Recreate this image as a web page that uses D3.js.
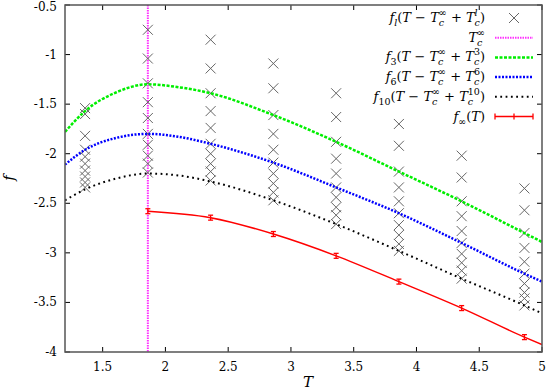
<!DOCTYPE html>
<html>
<head>
<meta charset="utf-8">
<title>f vs T</title>
<script src="https://d3js.org/d3.v7.min.js"></script>
<style>
  body { margin: 0; background: #fff; }
  svg text { font-family: "DejaVu Serif", serif; }
</style>
</head>
<body>
<script>
// ---- data ----
const xTicks = [1.5, 2, 2.5, 3, 3.5, 4, 4.5, 5];
const yTicks = [-0.5, -1, -1.5, -2, -2.5, -3, -3.5, -4];
const tcInf = 1.86;

// f_l(T - Tc + Tc^l), l = 1..10, one array per T column
const colT = [1.36, 1.86, 2.36, 2.86, 3.36, 3.86, 4.36, 4.86];
const cols = [
  [-1.54, -1.60, -1.82, -1.96, -2.03, -2.10, -2.17, -2.23, -2.29, -2.34],
  [-0.75, -1.04, -1.29, -1.48, -1.64, -1.80, -1.91, -2.02, -2.10, -2.19],
  [-0.85, -1.14, -1.39, -1.57, -1.74, -1.90, -2.00, -2.10, -2.18, -2.27],
  [-1.09, -1.34, -1.61, -1.80, -1.96, -2.09, -2.20, -2.30, -2.39, -2.47],
  [-1.39, -1.63, -1.88, -2.05, -2.20, -2.34, -2.44, -2.54, -2.62, -2.71],
  [-1.70, -1.92, -2.18, -2.34, -2.48, -2.60, -2.72, -2.82, -2.91, -2.98],
  [-2.02, -2.24, -2.48, -2.63, -2.78, -2.90, -3.01, -3.10, -3.18, -3.26],
  [-2.35, -2.57, -2.80, -2.95, -3.09, -3.21, -3.31, -3.40, -3.46, -3.53]
];

// shifted curves
const curveT = [1.2, 1.36, 1.61, 1.86, 2.11, 2.36, 2.86, 3.36, 3.86, 4.36, 4.86, 5.0];
const f3  = [-1.78, -1.57, -1.38, -1.30, -1.33, -1.39, -1.61, -1.88, -2.18, -2.48, -2.80, -2.89];
const f6  = [-2.11, -1.96, -1.84, -1.80, -1.83, -1.90, -2.09, -2.34, -2.60, -2.90, -3.21, -3.29];
const f10 = [-2.47, -2.36, -2.25, -2.20, -2.22, -2.28, -2.47, -2.71, -2.98, -3.26, -3.53, -3.61];

// f_inf(T) with error bars
const infT   = [1.86, 2.36, 2.86, 3.36, 3.86, 4.36, 4.86];
const infVal = [-2.58, -2.645, -2.81, -3.03, -3.29, -3.557, -3.85];
const infErr = [0.025, 0.025, 0.025, 0.025, 0.025, 0.025, 0.025];
const infEnd = [5.0, -3.925];

const legendLabels = [
  [["f", "i"], ["l", "subi"], ["(", ""], ["T", "i"], [" \u2212 ", ""], ["T", "i"], ["c", "subi"], ["\u221E", "sup"], [" + ", ""], ["T", "i"], ["c", "subi"], ["l", "supi"], [")", ""]],
  [["T", "i"], ["c", "subi"], ["\u221E", "sup"]],
  [["f", "i"], ["3", "sub"], ["(", ""], ["T", "i"], [" \u2212 ", ""], ["T", "i"], ["c", "subi"], ["\u221E", "sup"], [" + ", ""], ["T", "i"], ["c", "subi"], ["3", "sup"], [")", ""]],
  [["f", "i"], ["6", "sub"], ["(", ""], ["T", "i"], [" \u2212 ", ""], ["T", "i"], ["c", "subi"], ["\u221E", "sup"], [" + ", ""], ["T", "i"], ["c", "subi"], ["6", "sup"], [")", ""]],
  [["f", "i"], ["10", "sub"], ["(", ""], ["T", "i"], [" \u2212 ", ""], ["T", "i"], ["c", "subi"], ["\u221E", "sup"], [" + ", ""], ["T", "i"], ["c", "subi"], ["10", "sup"], [")", ""]],
  [["f", "i"], ["\u221E", "sub"], ["(", ""], ["T", "i"], [")", ""]]
];

// ---- layout ----
const W = 546, H = 390;
const m = {left: 65, right: 4, top: 5, bottom: 38};

const svg = d3.select("body").append("svg")
  .attr("width", W).attr("height", H);

const x = d3.scaleLinear().domain([1.2, 5]).range([m.left, W - m.right]);
const y = d3.scaleLinear().domain([-4, -0.5]).range([H - m.bottom, m.top]);

svg.append("clipPath").attr("id", "clip").append("rect")
  .attr("x", m.left).attr("y", m.top)
  .attr("width", W - m.left - m.right).attr("height", H - m.top - m.bottom);

// ticks (inward, mirrored)
const tk = 5;
const axisCol = "#555";
const tickG = svg.append("g").attr("stroke", "#000").attr("stroke-width", 1);
xTicks.forEach(v => {
  tickG.append("line").attr("x1", x(v)).attr("x2", x(v)).attr("y1", y(-4)).attr("y2", y(-4) - tk);
  tickG.append("line").attr("x1", x(v)).attr("x2", x(v)).attr("y1", y(-0.5)).attr("y2", y(-0.5) + tk);
});
yTicks.forEach(v => {
  tickG.append("line").attr("x1", x(1.2)).attr("x2", x(1.2) + tk).attr("y1", y(v)).attr("y2", y(v));
  tickG.append("line").attr("x1", x(5)).attr("x2", x(5) - tk).attr("y1", y(v)).attr("y2", y(v));
});

svg.append("g").selectAll("text").data(xTicks).join("text")
  .attr("x", d => x(d)).attr("y", y(-4) + 19)
  .attr("text-anchor", "middle").attr("font-size", 12)
  .text(d => d);
svg.append("g").selectAll("text").data(yTicks).join("text")
  .attr("x", m.left - 8).attr("y", d => Math.max(y(d) + 4, 11))
  .attr("text-anchor", "end").attr("font-size", 12)
  .text(d => d);

svg.append("text").attr("x", 303).attr("y", 387)
  .attr("font-size", 15).attr("font-style", "italic").text("T");
svg.append("text").attr("transform", "translate(14,178) rotate(-90)")
  .attr("text-anchor", "middle")
  .attr("font-size", 15).attr("font-style", "italic").text("f");

const plot = svg.append("g").attr("clip-path", "url(#clip)");

// T_c^inf
plot.append("line")
  .attr("x1", x(tcInf)).attr("x2", x(tcInf)).attr("y1", y(-0.5)).attr("y2", y(-4))
  .attr("stroke", "#ff33ff").attr("stroke-width", 2).attr("stroke-dasharray", "1.5,1");

// crosses
const cs = 5;
function cross(g, cx, cy) {
  g.append("path")
    .attr("d", `M${cx - cs},${cy - cs}L${cx + cs},${cy + cs}M${cx - cs},${cy + cs}L${cx + cs},${cy - cs}`)
    .attr("stroke", "#666").attr("stroke-width", 1).attr("fill", "none");
}
const crossG = plot.append("g");
cols.forEach((c, i) => c.forEach(v => cross(crossG, x(colT[i]), y(v))));

// curves
const line = d3.line().curve(d3.curveMonotoneX).x(d => x(d[0])).y(d => y(d[1]));
const series = [
  {vals: f3, color: "#00ee00", dash: "3,1.5", w: 2.5},
  {vals: f6, color: "#0000ff", dash: "2,1.5", w: 2.5},
  {vals: f10, color: "#000", dash: "1.8,3.5", w: 2}
];
series.forEach(s => {
  plot.append("path")
    .attr("d", line(curveT.map((t, i) => [t, s.vals[i]])))
    .attr("fill", "none").attr("stroke", s.color)
    .attr("stroke-width", s.w).attr("stroke-dasharray", s.dash);
});

// f_inf with error bars
const redPts = infT.map((t, i) => [t, infVal[i]]).concat([infEnd]);
plot.append("path").attr("d", line(redPts))
  .attr("fill", "none").attr("stroke", "#ff0000").attr("stroke-width", 1.5);
const eb = plot.append("g").attr("stroke", "#ff0000").attr("stroke-width", 1.3);
infT.forEach((t, i) => {
  const px = x(t), y1 = y(infVal[i] - infErr[i]), y2 = y(infVal[i] + infErr[i]);
  eb.append("line").attr("x1", px).attr("x2", px).attr("y1", y1).attr("y2", y2);
  eb.append("line").attr("x1", px - 2.5).attr("x2", px + 2.5).attr("y1", y1).attr("y2", y1);
  eb.append("line").attr("x1", px - 2.5).attr("x2", px + 2.5).attr("y1", y2).attr("y2", y2);
});

// frame
svg.append("rect")
  .attr("x", m.left).attr("y", m.top)
  .attr("width", W - m.left - m.right).attr("height", H - m.top - m.bottom)
  .attr("fill", "none").attr("stroke", axisCol).attr("stroke-width", 1.5);

// legend (subscript/superscript pairs stacked like TeX)
const lgX = 485, lgY = 18, lgStep = 19.7;
const sx1 = 495, sx2 = 533;
legendLabels.forEach((segs, i) => {
  const ty = lgY + i * lgStep;
  const t = svg.append("text").attr("x", lgX).attr("y", ty + 4)
    .attr("text-anchor", "end").attr("font-size", 13);
  let shift = 0, prevSub = null, extra = 0;
  segs.forEach(([s, st]) => {
    const ts = t.append("tspan").text(s);
    let target = 0;
    if (st.startsWith("sub")) target = 4;
    else if (st.startsWith("sup")) target = -6;
    if (st === "i" || st === "subi" || st === "supi") ts.attr("font-style", "italic");
    if (target !== 0) ts.attr("font-size", 9.5);
    ts.attr("dy", target - shift);
    if (st.startsWith("sup") && prevSub) {
      const subLen = prevSub.node().getComputedTextLength();
      ts.attr("dx", -subLen);
      extra = Math.max(0, subLen - ts.node().getComputedTextLength());
    } else if (extra > 0) {
      ts.attr("dx", extra);
      extra = 0;
    }
    prevSub = st.startsWith("sub") ? ts : null;
    shift = target;
  });
});
// legend samples
cross(svg, (sx1 + sx2) / 2, lgY);
const samp = [
  {i: 1, color: "#ff33ff", dash: "1.5,1", w: 2},
  {i: 2, color: "#00ee00", dash: "3,1.5", w: 2.5},
  {i: 3, color: "#0000ff", dash: "2,1.5", w: 2.5},
  {i: 4, color: "#000", dash: "1.8,3.5", w: 2}
];
samp.forEach(s => {
  svg.append("line").attr("x1", sx1).attr("x2", sx2)
    .attr("y1", lgY + s.i * lgStep).attr("y2", lgY + s.i * lgStep)
    .attr("stroke", s.color).attr("stroke-width", s.w).attr("stroke-dasharray", s.dash);
});
const ry = lgY + 5 * lgStep;
const lg = svg.append("g").attr("stroke", "#ff0000").attr("stroke-width", 1.3);
lg.append("line").attr("x1", sx1).attr("x2", sx2).attr("y1", ry).attr("y2", ry).attr("stroke-width", 1.5);
[sx1, (sx1 + sx2) / 2, sx2].forEach(px => {
  lg.append("line").attr("x1", px).attr("x2", px).attr("y1", ry - 3).attr("y2", ry + 3);
});
</script>
</body>
</html>
